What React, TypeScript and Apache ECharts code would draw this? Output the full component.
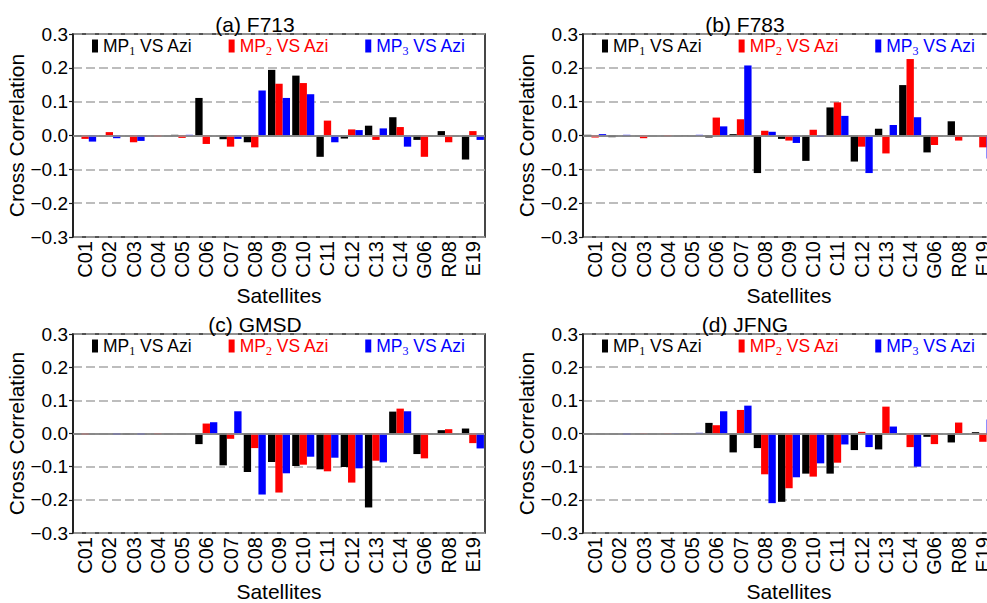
import React, { useEffect, useRef } from "react";
import * as echarts from "echarts";

// Satellite PRNs on the x axis
const satellites = [
  "C01", "C02", "C03", "C04", "C05", "C06", "C07", "C08", "C09", "C10",
  "C11", "C12", "C13", "C14", "G06", "R08", "E19",
];

const seriesNames = ["MP1 VS Azi", "MP2 VS Azi", "MP3 VS Azi"];
const seriesColors = ["#000000", "#ff0000", "#0000ff"];
const panelTitles = ["(a) F713", "(b) F783", "(c) GMSD", "(d) JFNG"];
const yTicks = [-0.3, 0.3, 0.1]; // min, max, interval

// (a) F713
const f713Mp1 = [-0.002, 0, 0, 0, 0.002, 0.111, -0.011, -0.02, 0.194, 0.177, -0.063, -0.009, 0.029, 0.054, -0.013, 0.013, -0.071];
const f713Mp2 = [-0.01, 0.01, -0.02, -0.003, -0.007, -0.025, -0.033, -0.035, 0.153, 0.155, 0.044, 0.018, -0.013, 0.025, -0.063, -0.02, 0.013];
const f713Mp3 = [-0.018, -0.008, -0.016, 0, 0.002, 0, -0.01, 0.133, 0.111, 0.122, -0.02, 0.016, 0.021, -0.033, 0, 0, -0.013];

// (b) F783
const f783Mp1 = [0.002, -0.005, 0, 0, 0.001, -0.006, 0.004, -0.111, -0.01, -0.075, 0.083, -0.077, 0.02, 0.149, -0.05, 0.042, 0];
const f783Mp2 = [-0.006, 0, -0.008, -0.002, 0, 0.053, 0.048, 0.014, -0.015, 0.017, 0.098, -0.033, -0.053, 0.226, -0.028, -0.015, -0.035];
const f783Mp3 = [0.004, 0.002, 0, 0, 0.002, 0.027, 0.207, 0.011, -0.022, -0.004, 0.058, -0.111, 0.031, 0.054, 0, 0, -0.068];

// (c) GMSD
const gmsdMp1 = [0, 0, -0.003, 0, 0, -0.032, -0.096, -0.116, -0.086, -0.098, -0.108, -0.101, -0.223, 0.066, -0.062, 0.01, 0.015];
const gmsdMp2 = [-0.003, 0, 0, -0.002, 0, 0.03, -0.016, -0.044, -0.178, -0.094, -0.114, -0.148, -0.082, 0.075, -0.075, 0.013, -0.029];
const gmsdMp3 = [0, -0.003, -0.003, 0, 0, 0.034, 0.067, -0.184, -0.12, -0.07, -0.073, -0.105, -0.087, 0.067, 0, 0, -0.045];

// (d) JFNG
const jfngMp1 = [0, 0, 0, 0, -0.001, 0.032, -0.057, -0.044, -0.206, -0.121, -0.121, -0.05, -0.048, -0.004, -0.01, -0.027, 0.004];
const jfngMp2 = [0, 0, -0.001, -0.001, 0, 0.025, 0.071, -0.123, -0.165, -0.13, -0.088, 0.005, 0.081, -0.041, -0.032, 0.033, -0.025];
const jfngMp3 = [0, -0.003, 0, -0.001, 0.002, 0.067, 0.084, -0.21, -0.132, -0.09, -0.033, -0.041, 0.021, -0.1, 0, 0, 0.042];

const panelData = [
  [f713Mp1, f713Mp2, f713Mp3],
  [f783Mp1, f783Mp2, f783Mp3],
  [gmsdMp1, gmsdMp2, gmsdMp3],
  [jfngMp1, jfngMp2, jfngMp3],
];

const FONT = "'Liberation Sans', Arial, sans-serif";

// plot-area boxes: left, top, width, height
const gridBoxes = [
  { left: 73, top: 34, width: 412, height: 203 },
  { left: 583, top: 34, width: 412, height: 203 },
  { left: 73, top: 334, width: 412, height: 201 },
  { left: 583, top: 334, width: 412, height: 201 },
];

const titleCenters = [
  { x: 250, y: 9 },
  { x: 740, y: 9 },
  { x: 250, y: 309 },
  { x: 740, y: 309 },
];

function fmtTick(v: number): string {
  const s = Math.abs(v) < 1e-9 ? "0.0" : v.toFixed(1);
  return s.replace("-", "\u2212");
}

function legendLabel(name: string): string {
  const m = name.match(/^MP(\d)(.*)$/);
  if (!m) return name;
  return `MP{sub|${m[1]}}${m[2]}`;
}

export default function App() {
  const ref = useRef<HTMLDivElement>(null);

  useEffect(() => {
    document.body.style.margin = "0";
    if (!ref.current) return;
    const chart = echarts.init(ref.current, null, { renderer: "svg" });

    const grid = gridBoxes.map((g) => ({
      ...g,
      show: true,
      borderColor: "#1a1a1a",
      borderWidth: 1.6,
      backgroundColor: "transparent",
    }));

    const xAxis = gridBoxes.map((_, i) => ({
      type: "category",
      gridIndex: i,
      data: satellites,
      name: "Satellites",
      nameLocation: "middle",
      nameGap: 48,
      nameTextStyle: { fontFamily: FONT, fontSize: 21, color: "#000" },
      axisLine: { show: true, lineStyle: { color: "#1a1a1a", width: 1.6 } },
      axisTick: { show: false },
      axisLabel: {
        rotate: 90,
        interval: 0,
        margin: 4,
        fontFamily: FONT,
        fontSize: 20,
        color: "#000",
      },
      splitLine: { show: false },
    }));

    const yAxis = gridBoxes.map((_, i) => ({
      type: "value",
      gridIndex: i,
      min: yTicks[0],
      max: yTicks[1],
      interval: yTicks[2],
      name: "Cross Correlation",
      nameLocation: "middle",
      nameGap: 44,
      nameTextStyle: { fontFamily: FONT, fontSize: 21, color: "#000" },
      axisLine: { show: true, lineStyle: { color: "#1a1a1a", width: 1.6 } },
      axisTick: { show: true, length: 4, inside: false, lineStyle: { color: "#1a1a1a", width: 1.2 } },
      axisLabel: {
        margin: 5,
        fontFamily: FONT,
        fontSize: 19,
        color: "#000",
        formatter: fmtTick,
      },
      splitLine: {
        show: true,
        lineStyle: { color: "#a8a8a8", width: 1.5, type: [9, 4] },
      },
    }));

    const series: any[] = [];
    panelData.forEach((group, gi) => {
      group.forEach((vals, si) => {
        const s: any = {
          type: "bar",
          name: seriesNames[si],
          xAxisIndex: gi,
          yAxisIndex: gi,
          data: vals,
          barGap: "0%",
          barCategoryGap: "9%",
          itemStyle: { color: seriesColors[si] },
          silent: true,
        };
        if (si === 0) {
          s.markLine = {
            silent: true,
            symbol: "none",
            label: { show: false },
            lineStyle: { color: "#a0a0a0", width: 1.5, type: "solid" },
            data: [{ yAxis: 0 }],
          };
        }
        series.push(s);
      });
    });

    const title = panelTitles.map((t, i) => ({
      text: t,
      left: titleCenters[i].x,
      top: titleCenters[i].y,
      textAlign: "center",
      textStyle: { fontFamily: FONT, fontSize: 21, fontWeight: "normal", color: "#000" },
    }));

    const legend = gridBoxes.map((g) => ({
      left: g.left + 19,
      top: g.top + 3,
      orient: "horizontal",
      itemWidth: 6,
      itemHeight: 13,
      itemGap: 36,
      icon: "rect",
      selectedMode: false,
      padding: 0,
      formatter: legendLabel,
      data: seriesNames.map((n, k) => ({
        name: n,
        textStyle: {
          color: seriesColors[k],
          fontFamily: FONT,
          fontSize: 17.5,
          rich: {
            sub: {
              fontFamily: "'Liberation Serif', 'Times New Roman', serif",
              fontSize: 12,
              verticalAlign: "bottom",
              padding: [9, 0, 0, 0],
            },
          },
        },
      })),
    }));

    chart.setOption({
      animation: false,
      backgroundColor: "#ffffff",
      title,
      legend,
      grid,
      xAxis,
      yAxis,
      series,
    });

    return () => chart.dispose();
  }, []);

  return (
    <div
      style={{
        position: "absolute",
        left: 0,
        top: 0,
        width: 987,
        height: 603,
        overflow: "hidden",
        background: "#fff",
      }}
    >
      <div ref={ref} style={{ width: 1000, height: 603 }} />
    </div>
  );
}
